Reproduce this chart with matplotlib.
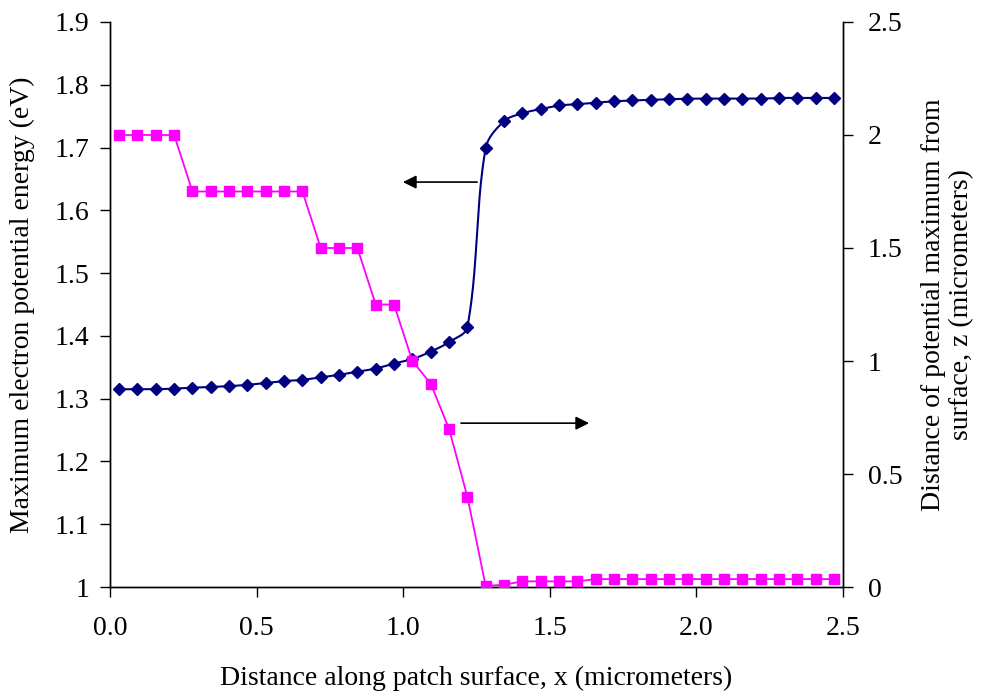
import numpy as np
import matplotlib
matplotlib.use("Agg")
import matplotlib.pyplot as plt
from matplotlib.ticker import FuncFormatter

# Positions along the patch surface (micrometers)
x_pos = [0.03125 + 0.0625 * k for k in range(40)]

# Maximum electron potential energy (eV), left axis
energy = [1.315, 1.315, 1.315, 1.316, 1.3175, 1.3186, 1.320, 1.322, 1.325, 1.328,
          1.330, 1.334, 1.338, 1.343, 1.348, 1.356, 1.363, 1.375, 1.390, 1.414,
          1.699, 1.742, 1.7545, 1.7614, 1.767, 1.769, 1.7715, 1.7736, 1.775, 1.776,
          1.777, 1.7778, 1.778, 1.778, 1.778, 1.778, 1.779, 1.779, 1.779, 1.779]

# Height of the potential maximum above the surface (micrometers), right axis
height = [2.0, 2.0, 2.0, 2.0,
          1.75, 1.75, 1.75, 1.75, 1.75, 1.75, 1.75,
          1.5, 1.5, 1.5,
          1.25, 1.25,
          1.0, 0.9, 0.7, 0.4,
          0.005, 0.01, 0.025, 0.025, 0.025, 0.025,
          0.035, 0.035, 0.035, 0.035, 0.035, 0.035, 0.035, 0.035, 0.035, 0.035,
          0.035, 0.035, 0.035, 0.035]

x_ticks = [0.0, 0.5, 1.0, 1.5, 2.0, 2.5]
left_ticks = [1.0, 1.1, 1.2, 1.3, 1.4, 1.5, 1.6, 1.7, 1.8, 1.9]
right_ticks = [0, 0.5, 1, 1.5, 2, 2.5]


def smooth_curve(xs, ys, sx=1.0, sy=1.0, n=40):
    """Bezier smoothing through every point; control arms are scaled by
    the length of each segment so that steep jumps do not overshoot."""
    P = np.column_stack([np.asarray(xs, float) * sx, np.asarray(ys, float) * sy])
    m = len(P)
    tang = np.zeros_like(P)
    for i in range(m):
        a = P[max(i - 1, 0)]
        b = P[min(i + 1, m - 1)]
        d = b - a
        tang[i] = d / np.hypot(*d)
    t = np.linspace(0, 1, n, endpoint=False)[:, None]
    pts = []
    for i in range(m - 1):
        p1, p2 = P[i], P[i + 1]
        L = np.hypot(*(p2 - p1))
        c1 = p1 + tang[i] * L / 3
        c2 = p2 - tang[i + 1] * L / 3
        b = (1 - t) ** 3 * p1 + 3 * (1 - t) ** 2 * t * c1 + 3 * (1 - t) * t ** 2 * c2 + t ** 3 * p2
        pts.append(b)
    pts.append(P[-1][None, :])
    pts = np.vstack(pts)
    return pts[:, 0] / sx, pts[:, 1] / sy


plt.rcParams['font.family'] = ['Liberation Serif', 'DejaVu Serif']
FS = 20
plt.rcParams['font.size'] = FS

fig = plt.figure(figsize=(9.83, 6.96), dpi=100)
ax = fig.add_axes([0.1119, 0.1566, 0.7457, 0.8118])
ax2 = ax.twinx()

navy = '#000080'
magenta = '#FF00FF'

# scale factors roughly proportional to pixels per unit on each axis
cx, cy = smooth_curve(x_pos, energy, sx=293.0, sy=628.0)
ax.plot(cx, cy, color=navy, lw=1.5, zorder=3)
ax.plot(x_pos, energy, ls='none', marker='D', ms=6, color=navy, zorder=4)

ax2.plot(x_pos, height, color=magenta, lw=1.3, marker='s', ms=7,
         markerfacecolor=magenta, markeredgecolor=magenta, zorder=3)

ax.set_xlim(0, 2.5)
ax.set_ylim(1.0, 1.9)
ax2.set_ylim(0, 2.5)

ax.set_xticks(x_ticks)
ax.set_yticks(left_ticks)
ax2.set_yticks(right_ticks)
ax.xaxis.set_major_formatter(FuncFormatter(lambda v, p: f"{v:.1f}"))
ax.yaxis.set_major_formatter(FuncFormatter(lambda v, p: f"{v:g}"))
ax2.yaxis.set_major_formatter(FuncFormatter(lambda v, p: f"{v:g}"))

for a in (ax, ax2):
    a.spines['top'].set_visible(False)
    for s in a.spines.values():
        s.set_linewidth(1.0)
ax.tick_params(axis='both', direction='out', length=7, width=1, labelsize=FS)
ax.tick_params(axis='x', pad=14)
ax.tick_params(axis='y', pad=8)
ax2.tick_params(axis='y', direction='out', length=7, width=1, labelsize=FS, pad=11)

ax.set_xlabel("Distance along patch surface, x (micrometers)", fontsize=FS, labelpad=18)
ax.set_ylabel("Maximum electron potential energy (eV)", fontsize=FS, labelpad=14)
ax2.set_ylabel("Distance of potential maximum from\nsurface, z (micrometers)",
               fontsize=FS, labelpad=13, linespacing=1.15)

# Arrows pointing each curve to its axis
ax.annotate('', xy=(0.999, 1.645), xytext=(1.252, 1.645),
            arrowprops=dict(arrowstyle='-|>', color='black', lw=1.2,
                            mutation_scale=20, shrinkA=0, shrinkB=0))
ax.annotate('', xy=(1.634, 1.261), xytext=(1.197, 1.261),
            arrowprops=dict(arrowstyle='-|>', color='black', lw=1.2,
                            mutation_scale=20, shrinkA=0, shrinkB=0))

fig.savefig('out.png', dpi=100)
